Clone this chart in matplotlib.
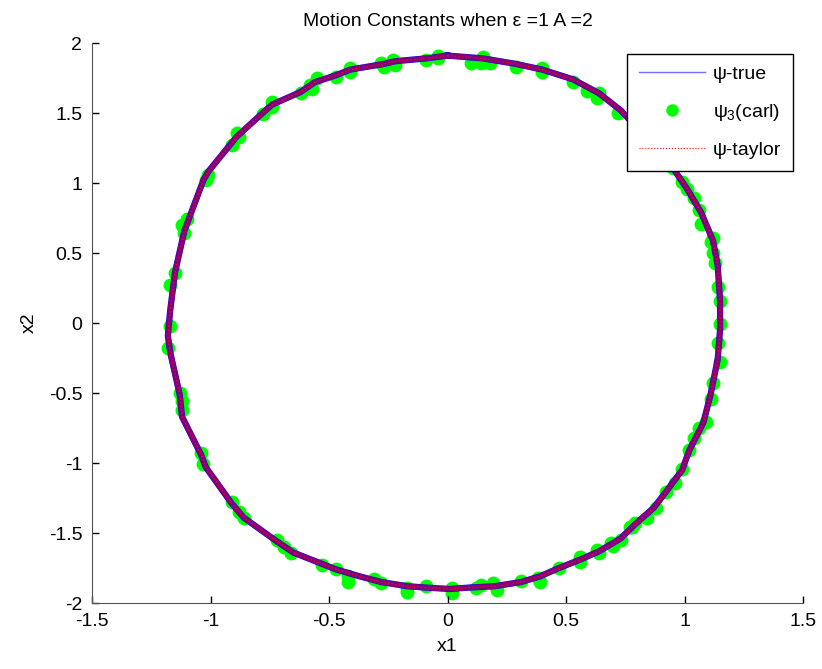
import numpy as np
import matplotlib
matplotlib.use("Agg")
import matplotlib.pyplot as plt
from matplotlib.lines import Line2D
from matplotlib.ticker import FormatStrFormatter

plt.rcParams['font.family'] = ['Liberation Sans', 'DejaVu Sans']
plt.rcParams['mathtext.fontset'] = 'custom'
plt.rcParams['mathtext.rm'] = 'Liberation Sans'
plt.rcParams['mathtext.it'] = 'Liberation Sans'
plt.rcParams['axes.unicode_minus'] = False

# orbit (clockwise from the top)
x1_true = [0.00, 0.15, 0.29, 0.40, 0.53, 0.64, 0.73, 0.83, 0.95, 1.01, 1.07, 1.12,
           1.14, 1.15, 1.15, 1.14, 1.11, 1.08, 1.02, 0.99, 0.92, 0.87, 0.79, 0.73,
           0.64, 0.56, 0.47, 0.39, 0.31, 0.20, 0.09, 0.01, -0.09, -0.17, -0.28, -0.37,
           -0.47, -0.53, -0.65, -0.72, -0.86, -0.91, -1.02, -1.04, -1.12, -1.13, -1.17,
           -1.18, -1.17, -1.15, -1.11, -1.03, -1.01, -0.89, -0.78, -0.74, -0.62, -0.56,
           -0.47, -0.41, -0.27, -0.22, -0.09, 0.00]
x2_true = [1.91, 1.89, 1.85, 1.81, 1.74, 1.64, 1.52, 1.34, 1.11, 0.96, 0.79, 0.59,
           0.41, 0.16, -0.05, -0.26, -0.51, -0.71, -0.91, -1.05, -1.21, -1.32, -1.44, -1.54,
           -1.63, -1.69, -1.75, -1.81, -1.85, -1.88, -1.89, -1.90, -1.89, -1.88, -1.85, -1.81,
           -1.76, -1.72, -1.64, -1.56, -1.39, -1.29, -1.03, -0.94, -0.67, -0.51, -0.21,
           -0.09, 0.09, 0.36, 0.66, 1.02, 1.08, 1.33, 1.50, 1.56, 1.65, 1.72,
           1.77, 1.81, 1.85, 1.87, 1.89, 1.91]

# psi_3 (carl) samples
x1_carl = [-0.62, -0.58, -0.57, -0.55, -0.47, -0.41, -0.41, -0.28, -0.27, -0.23, -0.22,
           -0.09, -0.04, -0.04, 0.10, 0.15, 0.18, 0.14, 0.29, 0.40, 0.40, 0.53, 0.59,
           0.64, 0.63, 0.72,
           -0.74, -0.74, -0.78, -0.89, -0.88, -0.91, -1.01, -1.02, -1.10, -1.12, -1.11,
           -1.15, -1.17,
           -1.17, -1.18, -1.13, -1.12, -1.12, -1.04, -1.03, -0.91, -0.88, -0.86, -0.72,
           -0.69, -0.66, -0.53,
           -0.47, -0.42, -0.42, -0.31, -0.28, -0.17, -0.17, -0.09, 0.02, 0.02, 0.14,
           0.12, 0.19, 0.21, 0.31, 0.38, 0.39, 0.47, 0.56, 0.64, 0.70, 0.73, 0.78,
           1.15, 1.15, 1.14, 1.15, 1.12, 1.11, 1.09, 1.06, 1.04, 1.02, 0.99, 0.96,
           0.92, 0.88, 0.84, 0.79, 0.77, 0.69, 0.63, 0.56,
           0.95, 0.99, 1.01, 1.04, 1.06, 1.07, 1.12, 1.11, 1.12, 1.13, 1.14]
x2_carl = [1.64, 1.70, 1.67, 1.75, 1.76, 1.82, 1.79, 1.86, 1.83, 1.88, 1.84,
           1.88, 1.91, 1.89, 1.86, 1.90, 1.86, 1.86, 1.83, 1.82, 1.79, 1.72, 1.66,
           1.64, 1.61, 1.50,
           1.58, 1.54, 1.49, 1.36, 1.33, 1.27, 1.06, 1.02, 0.74, 0.70, 0.64,
           0.36, 0.27,
           -0.02, -0.18, -0.50, -0.56, -0.62, -0.93, -1.01, -1.28, -1.35, -1.39, -1.55,
           -1.60, -1.64, -1.73,
           -1.76, -1.81, -1.85, -1.83, -1.86, -1.89, -1.92, -1.88, -1.89, -1.93, -1.87,
           -1.89, -1.86, -1.91, -1.84, -1.82, -1.85, -1.75, -1.71, -1.64, -1.59, -1.55, -1.46,
           0.16, -0.01, -0.14, -0.28, -0.43, -0.54, -0.71, -0.75, -0.82, -0.91, -1.04, -1.14,
           -1.21, -1.32, -1.39, -1.43, -1.46, -1.57, -1.62, -1.67,
           1.11, 1.01, 0.96, 0.89, 0.81, 0.71, 0.61, 0.58, 0.50, 0.43, 0.26]

x_ticks = [-1.5, -1, -0.5, 0, 0.5, 1, 1.5]
y_ticks = [-2, -1.5, -1, -0.5, 0, 0.5, 1, 1.5, 2]

fig = plt.figure(figsize=(8.22, 6.69), dpi=100)
ax = fig.add_axes([92/822, 66/669, 711/822, 560/669])

ax.plot(x1_carl, x2_carl, 'o', color=(0, 1, 0), markersize=10, markeredgewidth=0, zorder=1)
ax.plot(x1_true, x2_true, '-', color='blue', lw=4.5, zorder=2)
ax.plot(x1_true, x2_true, '-', color='red', lw=4, alpha=0.5, zorder=3)
ax.plot(x1_true, x2_true, ':', color='red', lw=1, zorder=4)

ax.set_xlim(-1.5, 1.5)
ax.set_ylim(-2, 2)
ax.set_xticks(x_ticks)
ax.set_yticks(y_ticks)
ax.xaxis.set_major_formatter(FormatStrFormatter('%g'))
ax.yaxis.set_major_formatter(FormatStrFormatter('%g'))
ax.tick_params(direction='in', length=5, width=1, labelsize=14, pad=7, colors='black')
for s in ['top', 'right']:
    ax.spines[s].set_visible(False)
for s in ['left', 'bottom']:
    ax.spines[s].set_color('#555555')

ax.set_title('Motion Constants when ε =1 A =2', fontsize=14, pad=12)
ax.set_xlabel('x1', fontsize=14, labelpad=6)
ax.set_ylabel('x2', fontsize=14, labelpad=8)

handles = [Line2D([], [], color='#6f6fff', lw=1),
           Line2D([], [], ls='none', marker='o', color=(0, 1, 0), markersize=9, markeredgewidth=0),
           Line2D([], [], color='red', lw=0.8, ls=':')]
labels = ['ψ-true', r'$\psi_3$(carl)', 'ψ-taylor']
leg = ax.legend(handles, labels, loc='upper right', bbox_to_anchor=(1 - 10/711, 1 - 11/560),
                borderaxespad=0, fontsize=14, fancybox=False, framealpha=1,
                edgecolor='black', handlelength=3.4, handletextpad=0.4,
                labelspacing=0.95, borderpad=0.6)
leg.get_frame().set_linewidth(1)

fig.savefig('out.png', dpi=100)
